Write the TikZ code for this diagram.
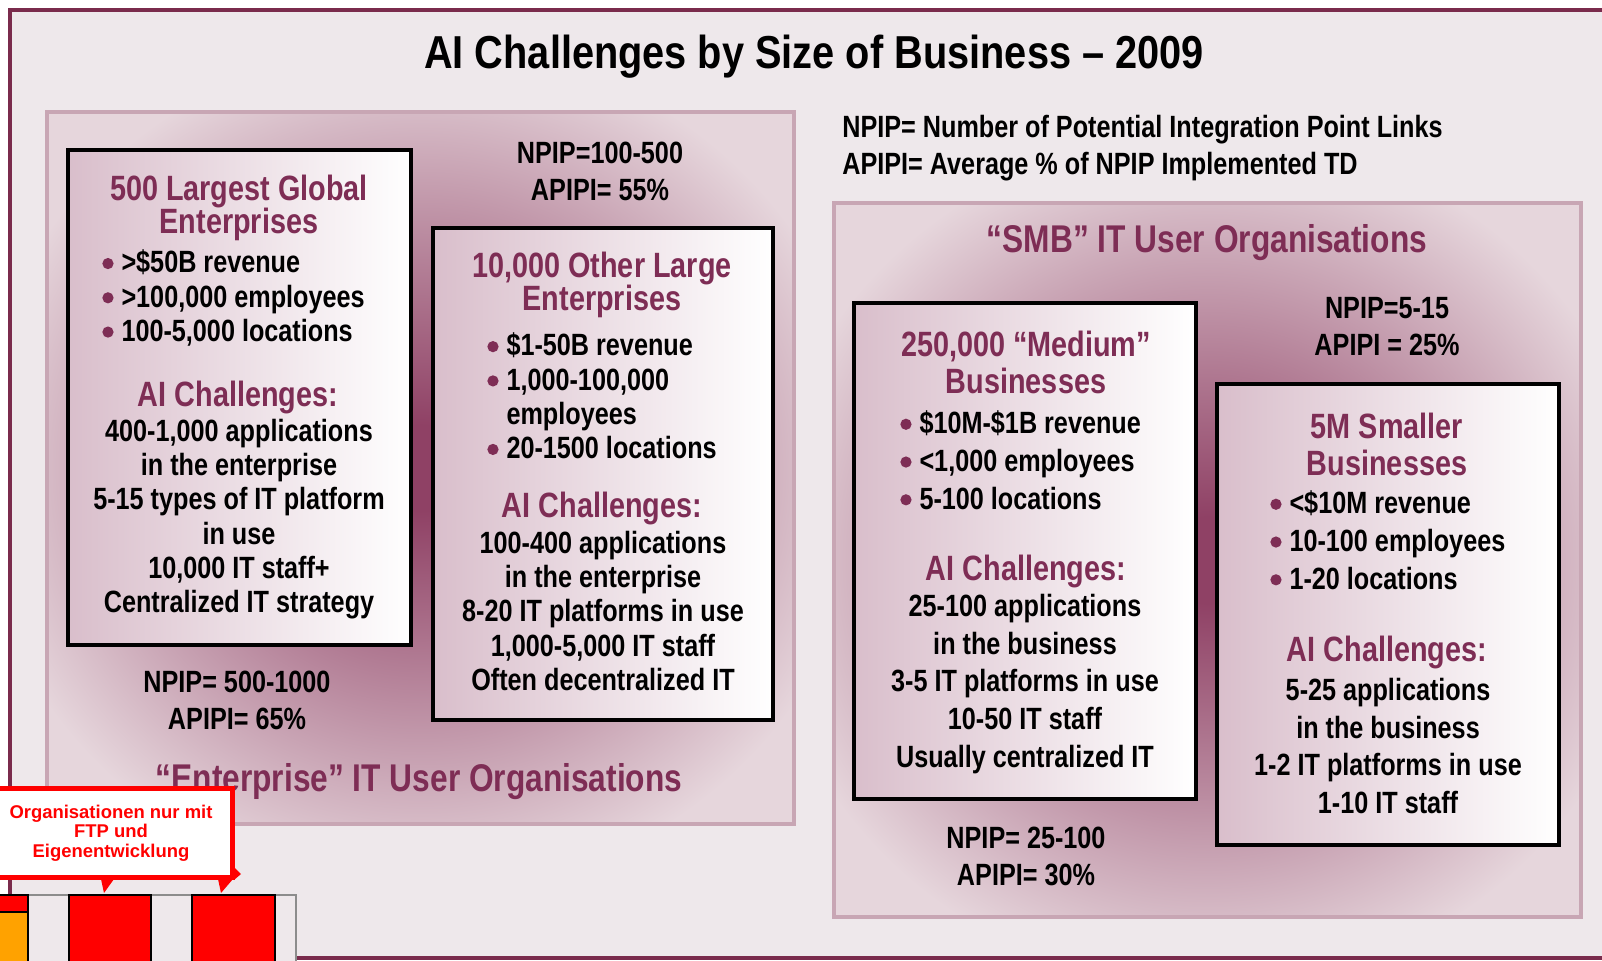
\documentclass[tikz,border=0pt]{standalone}
\usepackage{fontspec}
\setmainfont[FakeStretch=0.82]{Liberation Sans}
\newfontfamily\titlefont[FakeStretch=0.86]{Liberation Sans}
\newfontfamily\notefont{Liberation Sans}

\definecolor{framebg}{HTML}{EEE8EB}
\definecolor{frameline}{HTML}{7A2B4C}
\definecolor{panelline}{HTML}{C8A6B4}
\definecolor{glowin}{HTML}{8F4165}
\definecolor{glowout}{HTML}{E6D6DC}
\definecolor{boxpink}{HTML}{D9BECB}
\definecolor{hdmaroon}{HTML}{7E2D55}
\definecolor{noteorange}{HTML}{FFA200}

\pgfdeclareradialshading{panelglow}{\pgfpoint{0bp}{0bp}}{%
  color(0bp)=(glowin); color(3bp)=(glowin); color(30bp)=(glowout); color(50bp)=(glowout)}

\newcommand{\bul}{\tikz[baseline=-0.3em]\fill[hdmaroon] (0,0) circle (3.2pt);\hspace{4.5pt}}

\begin{document}
\begin{tikzpicture}[x=0.02cm, y=-0.02cm,
  every node/.style={inner sep=0pt, align=center},
  panel/.style={draw=panelline, line width=2.8pt, shade, shading=panelglow},
  sizebox/.style={draw=black, line width=2.4pt, left color=boxpink, right color=white},
  grouphead/.style={text=hdmaroon, font=\bfseries\fontsize{20}{#1}\selectfont},
  grouphead/.default=19.2,
  grouptext/.style={font=\bfseries\fontsize{17.5}{#1}\selectfont},
  grouptext/.default=19.5,
  facts/.style={grouptext=#1, align=left, anchor=west},
  facts/.default=19.5,
  orgtitle/.style={text=hdmaroon, font=\bfseries\fontsize{22}{26}\selectfont},
  notebox/.style={draw=red, line width=2.8pt, fill=white, text=red,
    minimum width=4.85cm, minimum height=1.77cm,
    font=\notefont\bfseries\fontsize{10.5}{11}\selectfont},
  tail/.style={fill=red},
  cell/.style={draw=black!45, fill=framebg, line width=0.6pt},
  bar/.style={draw=black, fill=red, line width=0.6pt}]
  \useasboundingbox (0,0) rectangle (1602,960);
  \fill[white] (0,0) rectangle (1602,960);
  \draw[frameline, line width=2.3pt, fill=framebg] (10,10) rectangle (1620,958);

  % title and legend
  \node[font=\titlefont\bfseries\fontsize{26.3}{30}\selectfont] (title) at (814,57)
    {AI Challenges by Size of Business \textendash{} 2009};
  \node[grouptext=21, align=left, anchor=west] (legend) at (842,148)
    {NPIP= Number of Potential Integration Point Links\\APIPI= Average \% of NPIP Implemented TD};

  % enterprise panel
  \path[panel] (47,112) rectangle (794,824);
  \path[sizebox] (68,150) rectangle (411,645);
  \path[sizebox] (433,228) rectangle (773,720);

  \node[grouphead] (globalhead) at (239,208) {500 Largest Global\\Enterprises};
  \node[facts] (globalfacts) at (102,298)
    {\bul>\$50B revenue\\\bul>100,000 employees\\\bul100-5,000 locations};
  \node[grouphead] (globalai) at (238,397) {AI Challenges:};
  \node[grouptext] (globalchal) at (239,519)
    {400-1,000 applications\\in the enterprise\\5-15 types of IT platform\\in use\\10,000 IT staff+\\Centralized IT strategy};

  \node[grouphead] (largehead) at (602,285) {10,000 Other Large\\Enterprises};
  \node[facts] (largefacts) at (487,396)
    {\bul\$1-50B revenue\\\bul1,000-100,000\\\phantom{\bul}employees\\\bul20-1500 locations};
  \node[grouphead] (largeai) at (602,508) {AI Challenges:};
  \node[grouptext] (largechal) at (603,611)
    {100-400 applications\\in the enterprise\\8-20 IT platforms in use\\1,000-5,000 IT staff\\Often decentralized IT};

  \node[grouptext=21] (largenpip) at (600,171) {NPIP=100-500\\APIPI= 55\%};
  \node[grouptext=21] (globalnpip) at (237,700) {NPIP= 500-1000\\APIPI= 65\%};
  \node[orgtitle] (entorg) at (419,782) {“Enterprise” IT User Organisations};

  % smb panel
  \path[panel] (834,203) rectangle (1581,917);
  \path[sizebox] (854,303) rectangle (1196,799);
  \path[sizebox] (1217,384) rectangle (1559,845);

  \node[orgtitle] (smborg) at (1207,243) {“SMB” IT User Organisations};

  \node[grouphead=21] (mediumhead) at (1026,362) {250,000 “Medium”\\Businesses};
  \node[facts=21.5] (mediumfacts) at (900,460)
    {\bul\$10M-\$1B revenue\\\bul<1,000 employees\\\bul5-100 locations};
  \node[grouphead] (mediumai) at (1026,571) {AI Challenges:};
  \node[grouptext=21.5] (mediumchal) at (1025,684)
    {25-100 applications\\in the business\\3-5 IT platforms in use\\10-50 IT staff\\Usually centralized IT};

  \node[grouphead=21] (smallhead) at (1387,444) {5M Smaller\\Businesses};
  \node[facts=21.5] (smallfacts) at (1270,540)
    {\bul<\$10M revenue\\\bul10-100 employees\\\bul1-20 locations};
  \node[grouphead] (smallai) at (1387,652) {AI Challenges:};
  \node[grouptext=21.5] (smallchal) at (1388,746)
    {5-25 applications\\in the business\\1-2 IT platforms in use\\1-10 IT staff};

  \node[grouptext=21] (smallnpip) at (1387,327) {NPIP=5-15\\APIPI = 25\%};
  \node[grouptext=21] (mediumnpip) at (1026,856) {NPIP= 25-100\\APIPI= 30\%};

  % bars at the bottom
  \path[cell] (28,895) rectangle (296,965);
  \draw[cell] (69,895) -- (69,965) (151,895) -- (151,965) (192,895) -- (192,965) (275,895) -- (275,965);
  \path[bar] (69,895) rectangle (151,965);
  \path[bar] (192,895) rectangle (275,965);
  \path[bar] (-3,895) rectangle (28,912);
  \path[bar, fill=noteorange] (-3,912) rectangle (28,965);

  % callout
  \node[notebox] (ftpnote) at (111,833)
    {Organisationen nur mit\\FTP und\\Eigenentwicklung};
  \fill[tail] (101,879) -- (114,879) -- (104,893) -- cycle;
  \fill[tail] (218,879) -- (233,879) -- (221,893) -- cycle;
  \fill[tail] (234,867) -- (241,874) -- (234,880) -- cycle;
\end{tikzpicture}
\end{document}
